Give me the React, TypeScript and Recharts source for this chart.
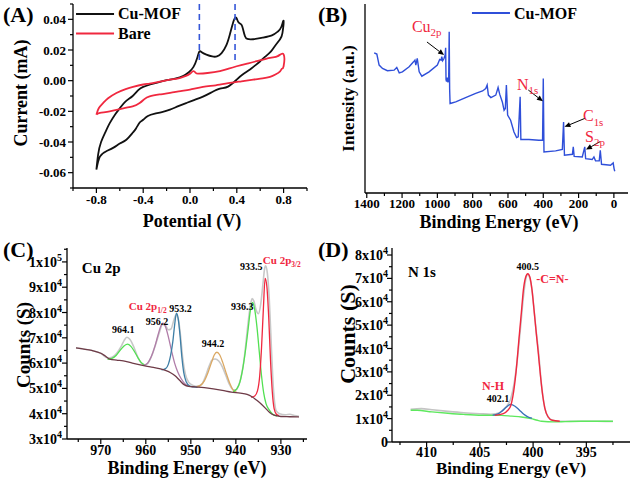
import React from 'react';
import { LineChart, Line, XAxis, YAxis, ReferenceLine, ReferenceDot } from 'recharts';

const FONT = "'Liberation Serif', 'DejaVu Serif', serif";
const AXIS = { stroke: '#000', strokeWidth: 1.3 };
const RED = '#f0283f';
const BLACK = '#111';
const BLUE = '#2f4fd9';

// ---- (A) cyclic voltammetry, [potential V, current mA]
const cvCuMof = [
  [-0.8, -0.058], [-0.785, -0.048], [-0.76, -0.04], [-0.72, -0.033], [-0.686, -0.0277], [-0.64, -0.022],
  [-0.6, -0.018], [-0.55, -0.0135], [-0.49, -0.01], [-0.44, -0.006], [-0.4, -0.0041], [-0.34, -0.0025],
  [-0.28, -0.0012], [-0.2, 0.0003], [-0.12, 0.0015], [-0.06, 0.003], [-0.01, 0.0055], [0.03, 0.009],
  [0.06, 0.0145], [0.08, 0.019], [0.1, 0.0185], [0.14, 0.017], [0.19, 0.0158], [0.23, 0.0158],
  [0.27, 0.018], [0.31, 0.023], [0.34, 0.03], [0.365, 0.037], [0.385, 0.041], [0.4, 0.0405],
  [0.415, 0.038], [0.44, 0.0365], [0.455, 0.033], [0.47, 0.029], [0.49, 0.0272], [0.54, 0.027],
  [0.62, 0.028], [0.7, 0.0295], [0.75, 0.032], [0.78, 0.035], [0.8, 0.039],
  [0.79, 0.031], [0.769, 0.0269], [0.72, 0.022], [0.684, 0.0184], [0.64, 0.0155], [0.598, 0.0125],
  [0.55, 0.0095], [0.513, 0.0073], [0.45, 0.004], [0.399, 0.0007], [0.325, -0.0039], [0.256, -0.0052],
  [0.18, -0.0078], [0.111, -0.0104], [0.04, -0.0125], [-0.026, -0.0144], [-0.1, -0.0166], [-0.171, -0.0189],
  [-0.24, -0.0205], [-0.3, -0.0215], [-0.36, -0.023], [-0.4, -0.0255], [-0.43, -0.0273], [-0.46, -0.031],
  [-0.49, -0.034], [-0.544, -0.0385], [-0.6, -0.041], [-0.65, -0.0435], [-0.715, -0.046], [-0.77, -0.0495],
  [-0.8, -0.058],
].map(([x, y]) => ({ x, y }));

const cvBare = [
  [-0.8, -0.0222], [-0.78, -0.018], [-0.743, -0.0146], [-0.7, -0.0115], [-0.629, -0.008], [-0.55, -0.0055],
  [-0.487, -0.004], [-0.4, -0.0025], [-0.345, -0.0019], [-0.27, -0.0008], [-0.203, 0.0002], [-0.14, 0.001],
  [-0.09, 0.0017], [-0.04, 0.003], [0.0, 0.0045], [0.028, 0.0062], [0.05, 0.005], [0.071, 0.0046],
  [0.15, 0.005], [0.256, 0.0062], [0.33, 0.0078], [0.399, 0.0094], [0.48, 0.011], [0.57, 0.0127],
  [0.684, 0.0149], [0.75, 0.016], [0.8, 0.0171],
  [0.8, 0.0094], [0.785, 0.0078], [0.77, 0.0061], [0.73, 0.004], [0.684, 0.0025], [0.62, 0.0015],
  [0.54, 0.0007], [0.44, -0.0004], [0.342, -0.0015], [0.22, -0.003], [0.111, -0.0041], [0.0, -0.0058],
  [-0.08, -0.0068], [-0.17, -0.008], [-0.26, -0.009], [-0.345, -0.0102], [-0.39, -0.012], [-0.43, -0.0146],
  [-0.49, -0.0168], [-0.57, -0.018], [-0.686, -0.02], [-0.77, -0.021], [-0.8, -0.0222],
].map(([x, y]) => ({ x, y }));

const cvSeries = [
  { name: 'Cu-MOF', data: cvCuMof, color: BLACK },
  { name: 'Bare', data: cvBare, color: RED },
];
const cvPeaks = [0.08, 0.385];
const cvXTicks = [-1, -0.8, -0.6, -0.4, -0.2, 0, 0.2, 0.4, 0.6, 0.8, 1];
const cvXMajor = [-0.8, -0.4, 0, 0.4, 0.8];
const cvYTicks = [-0.07, -0.06, -0.05, -0.04, -0.03, -0.02, -0.01, 0, 0.01, 0.02, 0.03, 0.04, 0.05];
const cvYMajor = [-0.06, -0.04, -0.02, 0, 0.02, 0.04];
const cvLegendAt = [{ x: -0.974, y: 0.0435 }, { x: -0.974, y: 0.0308 }];

// ---- (B) XPS survey, [binding energy eV, intensity a.u.]
const survey = [
  [1358, 74.2], [1343, 73.5], [1330, 67.7], [1311, 65.9], [1283, 64.7], [1245, 65], [1230, 66.4],
  [1216, 63.6], [1198, 64.1], [1160, 66.8], [1135, 69.4], [1127, 70.3], [1122, 67.7], [1114, 71.2],
  [1103, 64.1], [1088, 61.8], [1047, 64.1], [1000, 67.7], [987, 70.7], [979, 70.3], [975, 72.1],
  [970, 70], [963, 71], [956, 73], [953, 76.8], [951, 60], [948, 59], [944, 61], [940, 58.5],
  [936, 60], [933, 85.3], [930.5, 55], [928, 47.3], [918, 47.6], [896, 48.2], [840, 50.5], [783, 52.7],
  [744, 54], [726, 55.3], [718, 57.1], [711, 51.8], [697, 50.5], [669, 51.8], [656, 55.8], [647, 52.3],
  [632, 48.2], [622, 43.8], [615, 44.7], [609, 57.1], [602, 41.2], [585, 38.5], [566, 32.3], [551, 29.3],
  [542, 29.7], [531, 50.9], [527, 28.3], [481, 28.3], [425, 27.9], [404, 27.9], [400, 60.6], [396, 21.7],
  [330, 22.3], [292, 23.1], [285, 37.6], [280, 20], [235, 20.5], [230, 24.4], [225, 19.4], [179, 19.1],
  [165, 24.4], [160, 18.2], [123, 17.7], [113, 19.1], [104, 17], [83, 17], [77, 22.6], [70, 15.2],
  [19, 14.7], [4, 15.9], [-1, 12.9], [-5, 11.5],
].map(([x, y]) => ({ x, y }));

const surveyXTicks = [0, 100, 200, 300, 400, 500, 600, 700, 800, 900, 1000, 1100, 1200, 1300, 1400];
const surveyXMajor = [0, 200, 400, 600, 800, 1000, 1200, 1400];

// ---- (C) Cu 2p, [binding energy eV, counts]
const cuRaw = [
  [975.5, 66000], [972, 65000], [970, 63900], [968.5, 62000], [967.5, 62300], [966.5, 63800], [965.5, 66500],
  [964.8, 69000], [964.2, 70200], [963.5, 69300], [962.7, 66500], [961.8, 62500], [961, 60000], [960.2, 59300],
  [959.5, 60000], [958.7, 62800], [957.8, 67500], [957, 72000], [956.3, 75300], [955.7, 75000], [955, 73200],
  [954.4, 73500], [953.8, 76800], [953.3, 79000], [952.8, 77500], [952.3, 71000], [951.8, 62000], [951.2, 55500],
  [950.5, 52500], [949.5, 51200], [948.5, 50800], [947.5, 51800], [946.8, 54500], [946, 58500], [945.3, 61200],
  [944.6, 61600], [943.8, 60800], [943, 58500], [942.2, 55000], [941.4, 51500], [940.6, 49500], [940, 49400],
  [939.3, 51500], [938.6, 56500], [938, 64000], [937.4, 74000], [936.8, 82500], [936.4, 85500], [936, 84500],
  [935.5, 81000], [935, 79500], [934.5, 83000], [934, 91000], [933.6, 97500], [933.4, 98500], [933, 95500],
  [932.6, 86000], [932.2, 70000], [931.8, 54000], [931.4, 44500], [931, 41000], [930.3, 40000], [929, 39600],
  [928, 39800], [927, 39300], [926, 39000],
].map(([x, y]) => ({ x, y }));

const cuBackground = [
  [975.5, 66000], [974, 65600], [972, 65000], [970, 63900], [969, 62800], [968, 61600], [966.5, 61200],
  [965, 60900], [963, 60000], [961, 59200], [959, 58500], [957, 57800], [955.5, 57000], [954.5, 56200],
  [953.5, 55000], [952.5, 53200], [951.5, 51500], [950.5, 50800], [949, 50600], [947, 50300], [945, 49800],
  [943, 49200], [941, 48500], [939, 48100], [937.5, 47600], [936.5, 46800], [935.5, 45500], [934.5, 44000],
  [933.5, 42300], [932.5, 40500], [931.5, 39400], [930, 38900], [928, 38800], [926, 38700],
].map(([x, y]) => ({ x, y }));

const cuFit9641 = [
  [968.5, 61500], [967.5, 61900], [966.6, 63000], [965.8, 64800], [965, 66500], [964.1, 67500], [963.3, 66600],
  [962.5, 64500], [961.7, 62000], [961, 60200], [960.3, 59300],
].map(([x, y]) => ({ x, y }));

const cuFit9562 = [
  [960.5, 59100], [959.6, 60000], [958.8, 62500], [958, 66500], [957.3, 71000], [956.7, 74500], [956.2, 75800],
  [955.6, 74300], [955, 70500], [954.3, 65000], [953.6, 60000], [952.9, 56500], [952.2, 54000], [951.4, 52000],
  [950.6, 51000],
].map(([x, y]) => ({ x, y }));

const cuFit9532 = [
  [956.5, 57300], [955.6, 57800], [955, 59500], [954.5, 63000], [954, 68500], [953.6, 75000], [953.2, 79700],
  [952.8, 77500], [952.4, 71000], [952, 62500], [951.6, 56500], [951, 52500], [950.3, 51000], [949.4, 50600],
  [948.5, 50400],
].map(([x, y]) => ({ x, y }));

const cuFit9442 = [
  [948.7, 50700], [947.8, 51300], [947, 53000], [946.2, 56200], [945.4, 60300], [944.8, 63200], [944.2, 64300],
  [943.6, 63300], [942.9, 60200], [942.1, 55800], [941.3, 51800], [940.6, 49300], [939.8, 48400],
].map(([x, y]) => ({ x, y }));

const cuFit9363 = [
  [940.6, 48600], [939.8, 49800], [939.1, 52500], [938.5, 57500], [937.9, 64500], [937.3, 73000], [936.8, 80500],
  [936.3, 84000], [935.8, 81000], [935.3, 74000], [934.8, 64500], [934.3, 55000], [933.8, 48000], [933.3, 44000],
  [932.6, 41500], [931.8, 39800], [930.8, 39000],
].map(([x, y]) => ({ x, y }));

const cuFit9335 = [
  [936.6, 46500], [935.8, 47000], [935.2, 49000], [934.7, 55000], [934.3, 66000], [933.9, 81000], [933.5, 93500],
  [933.1, 90000], [932.7, 78000], [932.3, 61000], [931.9, 48500], [931.5, 42000], [931, 39800], [930.4, 39200],
].map(([x, y]) => ({ x, y }));

const cuXTicks = [975, 970, 965, 960, 955, 950, 945, 940, 935, 930, 925];
const cuXMajor = [970, 960, 950, 940, 930];
const cuYTicks = [30000, 35000, 40000, 45000, 50000, 55000, 60000, 65000, 70000, 75000, 80000, 85000, 90000, 95000, 100000, 105000];
const cuYMajor = [30000, 40000, 50000, 60000, 70000, 80000, 90000, 100000];
const cuNotes = [
  { x: 965.0, y: 71900, text: '964.1' },
  { x: 957.5, y: 75000, text: '956.2' },
  { x: 952.3, y: 80200, text: '953.2' },
  { x: 945.1, y: 66400, text: '944.2' },
  { x: 938.6, y: 81000, text: '936.3' },
  { x: 936.6, y: 96800, text: '933.5' },
];

// ---- (D) N 1s, [binding energy eV, counts]
const nRaw = [
  [411.5, 14000], [410.5, 14300], [409.5, 13800], [408, 13100], [406.5, 12500], [405, 12100], [404, 11900],
  [403.5, 12100], [403, 13000], [402.5, 15200], [402.1, 18500], [401.8, 24500], [401.5, 34500], [401.2, 48000],
  [400.9, 62500], [400.65, 70500], [400.5, 71700], [400.3, 70000], [400.1, 65000], [399.9, 56000], [399.7, 47000],
  [399.5, 39000], [399.2, 24000], [398.9, 14500], [398.6, 10800], [398.2, 9300], [397.5, 8900], [396, 8900],
  [394, 8850], [392.5, 8800],
].map(([x, y]) => ({ x, y }));

const nBackground = [
  [411.5, 13600], [410.9, 13570], [409.5, 12900], [408, 12300], [406.5, 11800], [404.8, 11450], [403, 11400],
  [402, 11050], [401.1, 10700], [400.2, 10000], [399.6, 9300], [399.2, 8900], [398, 8600], [397, 8700],
  [395.5, 8850], [394, 8850], [392.5, 8850],
].map(([x, y]) => ({ x, y }));

const nFit4021 = [
  [403.8, 11500], [403.3, 12000], [402.9, 13300], [402.5, 15000], [402.1, 16100], [401.7, 15300], [401.3, 13700],
  [400.9, 12000], [400.5, 10800], [400.1, 10200],
].map(([x, y]) => ({ x, y }));

const nFit4005 = [
  [403.6, 11400], [402.8, 12100], [402.4, 13500], [402.1, 15500], [401.9, 19500], [401.6, 30000], [401.3, 45500],
  [401.1, 55500], [400.9, 65500], [400.7, 70500], [400.5, 72000], [400.3, 70500], [400.1, 65000], [399.9, 56000],
  [399.7, 46500], [399.5, 37500], [399.3, 28000], [399.1, 20000], [398.9, 14500], [398.6, 10800], [398.2, 9300],
  [397.5, 8900],
].map(([x, y]) => ({ x, y }));

const nXTicks = [412.5, 410, 407.5, 405, 402.5, 400, 397.5, 395, 392.5];
const nXMajor = [410, 405, 400, 395];
const nYTicks = [0, 5000, 10000, 15000, 20000, 25000, 30000, 35000, 40000, 45000, 50000, 55000, 60000, 65000, 70000, 75000, 80000];
const nYMajor = [0, 10000, 20000, 30000, 40000, 50000, 60000, 70000, 80000];

// ---- helpers
const near = (list: number[], v: number) => list.some((m) => Math.abs(m - v) < 1e-9);

const sci = (v: number) => {
  if (v === 0) return '0';
  const e = Math.floor(Math.log10(v) + 1e-9);
  const m = Math.round(v / Math.pow(10, e));
  return (
    <>
      <tspan>{`${m}x10`}</tspan>
      <tspan dy={-6} fontSize={10}>{e}</tspan>
    </>
  );
};

const makeXTick = (majors: number[], fmt: (v: number) => any, size: number, gap: number) => (p: any) => {
  const major = near(majors, p.payload.value);
  return (
    <g>
      <line x1={p.x} y1={p.y} x2={p.x} y2={p.y + (major ? 5 : 3)} stroke="#000" strokeWidth={1.2} />
      {major && (
        <text x={p.x} y={p.y + gap} textAnchor="middle" fontFamily={FONT} fontWeight="bold" fontSize={size} fill="#000">
          {fmt(p.payload.value)}
        </text>
      )}
    </g>
  );
};

const makeYTick = (majors: number[], fmt: (v: number) => any, size: number, gap: number) => (p: any) => {
  const major = near(majors, p.payload.value);
  return (
    <g>
      <line x1={p.x} y1={p.y} x2={p.x - (major ? 5 : 3)} y2={p.y} stroke="#000" strokeWidth={1.2} />
      {major && (
        <text x={p.x - gap} y={p.y + size * 0.36} textAnchor="end" fontFamily={FONT} fontWeight="bold" fontSize={size} fill="#000">
          {fmt(p.payload.value)}
        </text>
      )}
    </g>
  );
};

const xTitle = (text: string, shift: number, dy: number, size: number) => ({
  content: ({ viewBox }: any) => (
    <text x={viewBox.x + viewBox.width / 2 + shift} y={viewBox.y + dy} textAnchor="middle" dominantBaseline="central"
      fontFamily={FONT} fontWeight="bold" fontSize={size} fill="#000">
      {text}
    </text>
  ),
});

const yTitle = (text: string, dx: number, shift: number, size: number) => ({
  content: ({ viewBox }: any) => {
    const cx = viewBox.x + dx;
    const cy = viewBox.y + viewBox.height / 2 + shift;
    return (
      <text x={cx} y={cy} transform={`rotate(-90 ${cx} ${cy})`} textAnchor="middle" dominantBaseline="central"
        fontFamily={FONT} fontWeight="bold" fontSize={size} fill="#000">
        {text}
      </text>
    );
  },
});

// legend entry drawn at a point of the plot: line sample + name
const legendEntry = (name: string, color: string) => (p: any) => (
  <g>
    <line x1={p.cx} y1={p.cy} x2={p.cx + 38} y2={p.cy} stroke={color} strokeWidth={2} />
    <text x={p.cx + 42} y={p.cy} dominantBaseline="central" fontFamily={FONT} fontWeight="bold" fontSize={16} fill="#000">
      {name}
    </text>
  </g>
);

const noteText = (text: string, size = 10, color = '#000', anchor = 'middle') => (p: any) => (
  <text x={p.cx} y={p.cy} textAnchor={anchor} fontFamily={FONT} fontWeight="bold" fontSize={size} fill={color}>
    {text}
  </text>
);

const subText = (main: string, sub: string, size: number, bold: boolean) => (p: any) => (
  <text x={p.cx} y={p.cy} textAnchor="start" fontFamily={FONT} fontWeight={bold ? 'bold' : 'normal'} fontSize={size} fill={RED}>
    <tspan>{main}</tspan>
    <tspan dy={size * 0.28} fontSize={size * 0.68}>{sub}</tspan>
  </text>
);

const arrowShape = (p: any) => {
  const { x1, y1, x2, y2 } = p;
  const a = Math.atan2(y2 - y1, x2 - x1);
  const L = 6;
  const W = 2.6;
  const bx = x2 - L * Math.cos(a);
  const by = y2 - L * Math.sin(a);
  const pts = `${x2},${y2} ${bx + W * Math.sin(a)},${by - W * Math.cos(a)} ${bx - W * Math.sin(a)},${by + W * Math.cos(a)}`;
  return (
    <g>
      <line x1={x1} y1={y1} x2={bx} y2={by} stroke="#000" strokeWidth={1} />
      <polygon points={pts} fill="#000" />
    </g>
  );
};

// top and right sides of the box
const frameAxes = [
  <XAxis key="top" xAxisId="top" orientation="top" type="number" domain={[0, 1]} height={0} tick={false} tickLine={false} axisLine={AXIS} />,
  <YAxis key="right" yAxisId="right" orientation="right" type="number" domain={[0, 1]} width={0} tick={false} tickLine={false} axisLine={AXIS} />,
];

const PanelA = () => (
  <LineChart width={320} height={235} margin={{ top: 4, right: 13, bottom: 0, left: 0 }}>
    <XAxis type="number" dataKey="x" domain={[-1, 1]} ticks={cvXTicks} interval={0} allowDataOverflow height={47}
      tickSize={0} tickMargin={0} axisLine={AXIS} tickLine={false}
      tick={makeXTick(cvXMajor, (v) => v.toFixed(1), 13, 16)} label={xTitle('Potential (V)', 2, 33, 18)} />
    <YAxis type="number" dataKey="y" domain={[-0.07, 0.05]} ticks={cvYTicks} interval={0} allowDataOverflow width={73}
      tickSize={0} tickMargin={0} axisLine={AXIS} tickLine={false}
      tick={makeYTick(cvYMajor, (v) => v.toFixed(2), 13, 7)} label={yTitle('Current (mA)', 21, -3, 18)} />
    {frameAxes}
    {cvSeries.map((s) => (
      <Line key={s.name} data={s.data} dataKey="y" name={s.name} type="natural" stroke={s.color} strokeWidth={1.8}
        dot={false} isAnimationActive={false} />
    ))}
    {cvPeaks.map((v) => (
      <ReferenceLine key={v} segment={[{ x: v, y: 0.05 }, { x: v, y: 0.011 }]} stroke="#3557d8" strokeWidth={1.6} strokeDasharray="6 4" />
    ))}
    {cvSeries.map((s, i) => (
      <ReferenceDot key={`lg-${s.name}`} x={cvLegendAt[i].x} y={cvLegendAt[i].y} r={0} shape={legendEntry(s.name, s.color)} />
    ))}
  </LineChart>
);

const PanelB = () => (
  <LineChart width={320} height={235} margin={{ top: 4, right: 7, bottom: 0, left: 0 }}>
    <XAxis type="number" dataKey="x" domain={[-80, 1410]} reversed ticks={surveyXTicks} interval={0} allowDataOverflow height={42}
      tickSize={0} tickMargin={0} axisLine={AXIS} tickLine={false}
      tick={makeXTick(surveyXMajor, (v) => String(v), 13, 15)} label={xTitle('Binding Energy (eV)', 2.5, 29, 18)} />
    <YAxis type="number" dataKey="y" domain={[0, 100]} width={50} tick={false} tickLine={false} axisLine={AXIS}
      label={yTitle('Intensity (a.u.)', 33, 0, 17)} />
    {frameAxes}
    <Line data={survey} dataKey="y" name="Cu-MOF" type="linear" stroke={BLUE} strokeWidth={1.4} dot={false} isAnimationActive={false} />
    <ReferenceDot x={804} y={95.2} r={0} shape={legendEntry('Cu-MOF', BLUE)} />
    <ReferenceLine segment={[{ x: 1059, y: 79.9 }, { x: 962, y: 73 }]} shape={arrowShape} />
    <ReferenceLine segment={[{ x: 485, y: 54.5 }, { x: 402, y: 48.5 }]} shape={arrowShape} />
    <ReferenceLine segment={[{ x: 164, y: 39.5 }, { x: 280, y: 35 }]} shape={arrowShape} />
    <ReferenceLine segment={[{ x: 79, y: 27.1 }, { x: 158, y: 23 }]} shape={arrowShape} />
    <ReferenceDot x={1144} y={85.2} r={0} shape={subText('Cu', '2p', 16, false)} />
    <ReferenceDot x={549} y={54.5} r={0} shape={subText('N', '1s', 16, false)} />
    <ReferenceDot x={175} y={38} r={0} shape={subText('C', '1s', 16, false)} />
    <ReferenceDot x={163} y={27} r={0} shape={subText('S', '2p', 16, false)} />
  </LineChart>
);

const PanelC = () => (
  <LineChart width={320} height={243} margin={{ top: 13, right: 13, bottom: 0, left: 0 }}>
    <XAxis type="number" dataKey="x" domain={[924.2, 977.5]} reversed ticks={cuXTicks} interval={0} allowDataOverflow height={39}
      tickSize={0} tickMargin={0} axisLine={AXIS} tickLine={false}
      tick={makeXTick(cuXMajor, (v) => String(v), 14, 16)} label={xTitle('Binding Energy (eV)', 0, 29, 18)} />
    <YAxis type="number" dataKey="y" domain={[30000, 105500]} ticks={cuYTicks} interval={0} allowDataOverflow width={67}
      tickSize={0} tickMargin={0} axisLine={AXIS} tickLine={false}
      tick={makeYTick(cuYMajor, sci, 14, 5)} label={yTitle('Counts (S)', 23, 1.5, 19)} />
    {frameAxes}
    <Line data={cuRaw} dataKey="y" type="monotone" stroke="#c8c8c8" strokeWidth={1.6} dot={false} isAnimationActive={false} />
    <Line data={cuFit9641} dataKey="y" type="monotone" stroke="#52e052" strokeWidth={1.3} dot={false} isAnimationActive={false} />
    <Line data={cuFit9562} dataKey="y" type="monotone" stroke="#b07ca8" strokeWidth={1.3} dot={false} isAnimationActive={false} />
    <Line data={cuFit9532} dataKey="y" type="monotone" stroke="#3d7ea6" strokeWidth={1.3} dot={false} isAnimationActive={false} />
    <Line data={cuFit9442} dataKey="y" type="monotone" stroke="#dba862" strokeWidth={1.3} dot={false} isAnimationActive={false} />
    <Line data={cuFit9363} dataKey="y" type="monotone" stroke="#52e052" strokeWidth={1.3} dot={false} isAnimationActive={false} />
    <Line data={cuFit9335} dataKey="y" type="monotone" stroke={RED} strokeWidth={1.3} dot={false} isAnimationActive={false} />
    <Line data={cuBackground} dataKey="y" type="monotone" stroke="#6e3b47" strokeWidth={1.3} dot={false} isAnimationActive={false} />
    {cuNotes.map((n) => (
      <ReferenceDot key={n.text} x={n.x} y={n.y} r={0} shape={noteText(n.text)} />
    ))}
    <ReferenceDot x={963.8} y={81000} r={0} shape={subText('Cu 2p', '1/2', 11, true)} />
    <ReferenceDot x={934} y={99200} r={0} shape={subText('Cu 2p', '3/2', 11, true)} />
    <ReferenceDot x={974.2} y={95600} r={0} shape={noteText('Cu 2p', 15, '#000', 'start')} />
  </LineChart>
);

const PanelD = () => (
  <LineChart width={320} height={243} margin={{ top: 13, right: 5, bottom: 0, left: 0 }}>
    <XAxis type="number" dataKey="x" domain={[390.9, 413.25]} reversed ticks={nXTicks} interval={0} allowDataOverflow height={36}
      tickSize={0} tickMargin={0} axisLine={AXIS} tickLine={false}
      tick={makeXTick(nXMajor, (v) => String(v), 14, 15)} label={xTitle('Binding Energy (eV)', 0, 26.5, 17)} />
    <YAxis type="number" dataKey="y" domain={[0, 83000]} ticks={nYTicks} interval={0} allowDataOverflow width={77}
      tickSize={0} tickMargin={0} axisLine={AXIS} tickLine={false}
      tick={makeYTick(nYMajor, sci, 14, 4)} label={yTitle('Counts (S)', 32, -11, 22)} />
    {frameAxes}
    <Line data={nRaw} dataKey="y" type="monotone" stroke="#c4c4c4" strokeWidth={1.6} dot={false} isAnimationActive={false} />
    <Line data={nBackground} dataKey="y" type="monotone" stroke="#5ee85e" strokeWidth={1.4} dot={false} isAnimationActive={false} />
    <Line data={nFit4021} dataKey="y" type="monotone" stroke="#3a72b8" strokeWidth={1.4} dot={false} isAnimationActive={false} />
    <Line data={nFit4005} dataKey="y" type="monotone" stroke={RED} strokeWidth={1.4} dot={false} isAnimationActive={false} />
    <ReferenceDot x={411.75} y={70500} r={0} shape={noteText('N 1s', 15, '#000', 'start')} />
    <ReferenceDot x={400.5} y={73500} r={0} shape={noteText('400.5')} />
    <ReferenceDot x={399.7} y={68000} r={0} shape={noteText('-C=N-', 12, RED, 'start')} />
    <ReferenceDot x={404.8} y={22200} r={0} shape={noteText('N-H', 12, RED, 'start')} />
    <ReferenceDot x={403.3} y={17000} r={0} shape={noteText('402.1')} />
  </LineChart>
);

const tag = (text: string, left: number, top: number) => (
  <div style={{ position: 'absolute', left, top, fontFamily: FONT, fontWeight: 'bold', fontSize: 22, lineHeight: '24px' }}>{text}</div>
);

export default function App() {
  return (
    <div style={{ position: 'absolute', left: 0, top: 0, width: 635, height: 478, background: '#fff', overflow: 'hidden' }}>
      <div style={{ position: 'absolute', left: 0, top: 0 }}><PanelA /></div>
      <div style={{ position: 'absolute', left: 315, top: 0 }}><PanelB /></div>
      <div style={{ position: 'absolute', left: 0, top: 235 }}><PanelC /></div>
      <div style={{ position: 'absolute', left: 315, top: 235 }}><PanelD /></div>
      {tag('(A)', 3, 3)}
      {tag('(B)', 318, 3)}
      {tag('(C)', 3, 238)}
      {tag('(D)', 318, 238)}
    </div>
  );
}
